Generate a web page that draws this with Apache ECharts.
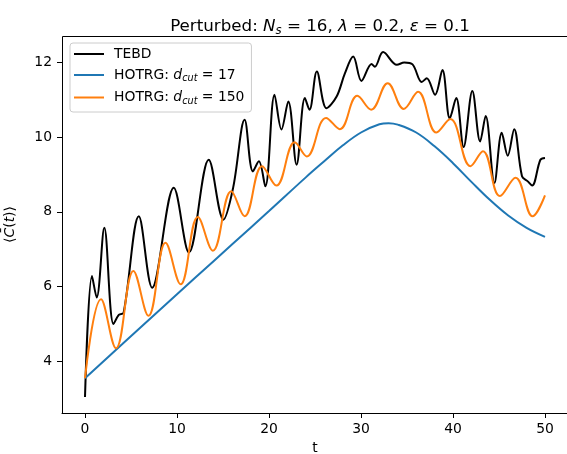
<!DOCTYPE html>
<html>
<head>
<meta charset="utf-8">
<script src="https://cdn.jsdelivr.net/npm/echarts@6/dist/echarts.min.js"></script>
<style>
html,body{margin:0;padding:0;background:#fff;}
#chart{width:567px;height:454px;}
</style>
</head>
<body>
<div id="chart"></div>
<script>
// ---- data ----
const seriesNames = ['TEBD', 'HOTRG: d_cut = 17', 'HOTRG: d_cut = 150'];

const tebdT = [0, 0.76, 1.27, 2.1, 3.1, 3.7, 4.2, 5.85, 7.3, 9.65, 11.3, 13.45, 15.05, 16.1, 17.35, 18.25, 18.9, 19.6, 20.6, 21.35, 22.1, 23.0, 23.9, 24.4, 25.2, 26.25, 27.35, 28.25, 29.15, 30.05, 31.15, 31.5, 32.4, 33.9, 34.7, 35.6, 36.6, 37.15, 38.05, 38.85, 39.65, 40.35, 41.15, 42.1, 42.95, 43.55, 44.5, 45.3, 45.95, 46.65, 47.5, 48.1, 48.6, 49.5, 50];
const tebdC = [3.05, 6.28, 5.71, 7.57, 5.0, 5.25, 5.3, 7.88, 5.97, 8.64, 6.91, 9.39, 7.79, 8.64, 10.46, 9.08, 9.35, 8.68, 11.13, 10.2, 10.95, 9.26, 11.04, 10.73, 11.75, 10.77, 11.08, 11.7, 12.15, 11.5, 11.95, 11.88, 12.27, 11.93, 11.99, 11.94, 11.47, 11.57, 11.13, 11.79, 10.5, 11.04, 9.73, 11.23, 9.88, 10.56, 8.77, 10.11, 9.5, 10.21, 8.95, 8.82, 8.7, 9.39, 9.44];

const hotrg17T = [0, 4, 8, 12, 16, 20, 24, 26, 28, 30, 32, 33, 34, 36, 38, 40, 42, 44, 46, 48, 50];
const hotrg17C = [3.55, 4.45, 5.35, 6.24, 7.13, 8.02, 8.92, 9.35, 9.77, 10.12, 10.34, 10.37, 10.33, 10.12, 9.75, 9.3, 8.8, 8.32, 7.9, 7.57, 7.33];

const hotrg150T = [0, 1.74, 3.37, 5.26, 6.9, 8.75, 10.4, 12.27, 13.9, 15.9, 17.35, 19.25, 20.8, 22.8, 24.1, 26.2, 27.7, 29.6, 31.1, 32.9, 34.65, 36.2, 38.2, 39.7, 41.9, 43.25, 45.1, 46.8, 48.65, 50];
const hotrg150C = [3.55, 5.66, 4.35, 6.42, 5.22, 7.17, 6.06, 7.86, 6.96, 8.55, 7.88, 9.22, 8.70, 9.86, 9.48, 10.51, 10.21, 11.1, 10.73, 11.44, 10.75, 11.21, 10.12, 10.48, 9.22, 9.62, 8.42, 8.91, 7.88, 8.44];

const xTicks = [0, 10, 20, 30, 40, 50];
const yTicks = [4, 6, 8, 10, 12];

const colors = ['#000000', '#1f77b4', '#ff7f0e'];

function zip(a, b) { return a.map((v, i) => [v, b[i]]); }

const FONT = 'DejaVu Sans';
const X_MIN = -2.5, X_MAX = 52.5, Y_MIN = 2.62, Y_MAX = 12.70;
const chart = echarts.init(document.getElementById('chart'), null, {renderer: 'canvas'});

const legendRich = {
  n: {fontFamily: FONT, fontSize: 13.9, color: '#000', lineHeight: 17},
  i: {fontFamily: FONT, fontSize: 13.9, fontStyle: 'italic', color: '#000', lineHeight: 17},
  s: {fontFamily: FONT, fontSize: 9.7, fontStyle: 'italic', color: '#000', lineHeight: 8, verticalAlign: 'bottom'}
};

const option = {
  animation: false,
  backgroundColor: '#fff',
  title: {
    text: '{n|Perturbed: }{i|N}{s|s}{n| = 16, }{i|λ}{n| = 0.2, }{i|ε}{n| = 0.1}',
    left: 315,
    textAlign: 'center',
    top: 12,
    textStyle: {
      fontWeight: 'normal',
      rich: {
        n: {fontFamily: FONT, fontSize: 16.7, fontWeight: 'normal', color: '#000', lineHeight: 20},
        i: {fontFamily: FONT, fontSize: 16.7, fontWeight: 'normal', fontStyle: 'italic', color: '#000', lineHeight: 20},
        s: {fontFamily: FONT, fontSize: 11.7, fontWeight: 'normal', fontStyle: 'italic', color: '#000', lineHeight: 10, verticalAlign: 'bottom'}
      }
    }
  },
  grid: {
    left: 62, right: -1, top: 36, bottom: 41,
    outerBoundsMode: 'none',
    show: false
  },
  legend: {
    orient: 'vertical',
    left: 70, top: 43,
    icon: 'rect',
    itemWidth: 30, itemHeight: 2, itemGap: 7,
    padding: [4, 7, 6, 4],
    backgroundColor: 'rgba(255,255,255,0.8)',
    borderColor: '#cccccc', borderWidth: 1, borderRadius: 3,
    data: seriesNames,
    formatter: function (name) {
      if (name === 'TEBD') return '{n|TEBD}';
      const v = name.split('= ')[1];
      return '{n|HOTRG: }{i|d}{s|cut}{n| = ' + v + '}';
    },
    textStyle: {padding: [0, 0, 0, 5], rich: legendRich}
  },
  xAxis: {
    type: 'value', min: X_MIN, max: X_MAX,
    name: 't', nameLocation: 'middle', nameGap: 28,
    nameTextStyle: {fontFamily: FONT, fontSize: 13.9, color: '#000'},
    axisLine: {show: true, onZero: false, lineStyle: {color: '#000', width: 1}},
    axisTick: {show: true, length: 5, customValues: xTicks},
    axisLabel: {fontFamily: FONT, fontSize: 13.9, color: '#000', margin: 9, customValues: xTicks},
    splitLine: {show: false}
  },
  yAxis: {
    type: 'value', min: Y_MIN, max: Y_MAX,
    name: '{n|⟨}{i|C̄}{n|(}{i|t}{n|)⟩}', nameLocation: 'middle', nameGap: 45, nameRotate: 90,
    nameTextStyle: {
      rich: {
        n: {fontFamily: FONT, fontSize: 13.9, color: '#000'},
        i: {fontFamily: FONT, fontSize: 13.9, fontStyle: 'italic', color: '#000'}
      }
    },
    axisLine: {show: false, onZero: false},
    axisTick: {show: true, length: 5, lineStyle: {color: '#000', width: 1}, customValues: yTicks},
    axisLabel: {fontFamily: FONT, fontSize: 13.9, color: '#000', margin: 10, customValues: yTicks},
    splitLine: {show: false}
  },
  series: [
    {name: seriesNames[0], type: 'line', data: zip(tebdT, tebdC), smooth: 0.35, symbol: 'none', color: colors[0], lineStyle: {width: 2, color: colors[0]}},
    {name: seriesNames[1], type: 'line', data: zip(hotrg17T, hotrg17C), smooth: 0.4, symbol: 'none', color: colors[1], lineStyle: {width: 2, color: colors[1]}},
    {name: seriesNames[2], type: 'line', data: zip(hotrg150T, hotrg150C), smooth: 0.4, symbol: 'none', color: colors[2], lineStyle: {width: 2, color: colors[2]}}
  ]
};
chart.setOption(option);

// Frame (left and top spines) placed from the axes' own pixel conversion
const xL = Math.round(chart.convertToPixel({xAxisIndex: 0}, X_MIN)) + 0.5;
const xR = chart.convertToPixel({xAxisIndex: 0}, X_MAX);
const yT = Math.round(chart.convertToPixel({yAxisIndex: 0}, Y_MAX)) + 0.5;
const yB = chart.convertToPixel({yAxisIndex: 0}, Y_MIN);
chart.setOption({
  graphic: [
    {type: 'line', z: 100, shape: {x1: xL, y1: yT, x2: xL, y2: yB}, style: {stroke: '#000', lineWidth: 1}},
    {type: 'line', z: 100, shape: {x1: xL, y1: yT, x2: xR, y2: yT}, style: {stroke: '#000', lineWidth: 1}}
  ]
});
</script>
</body>
</html>
